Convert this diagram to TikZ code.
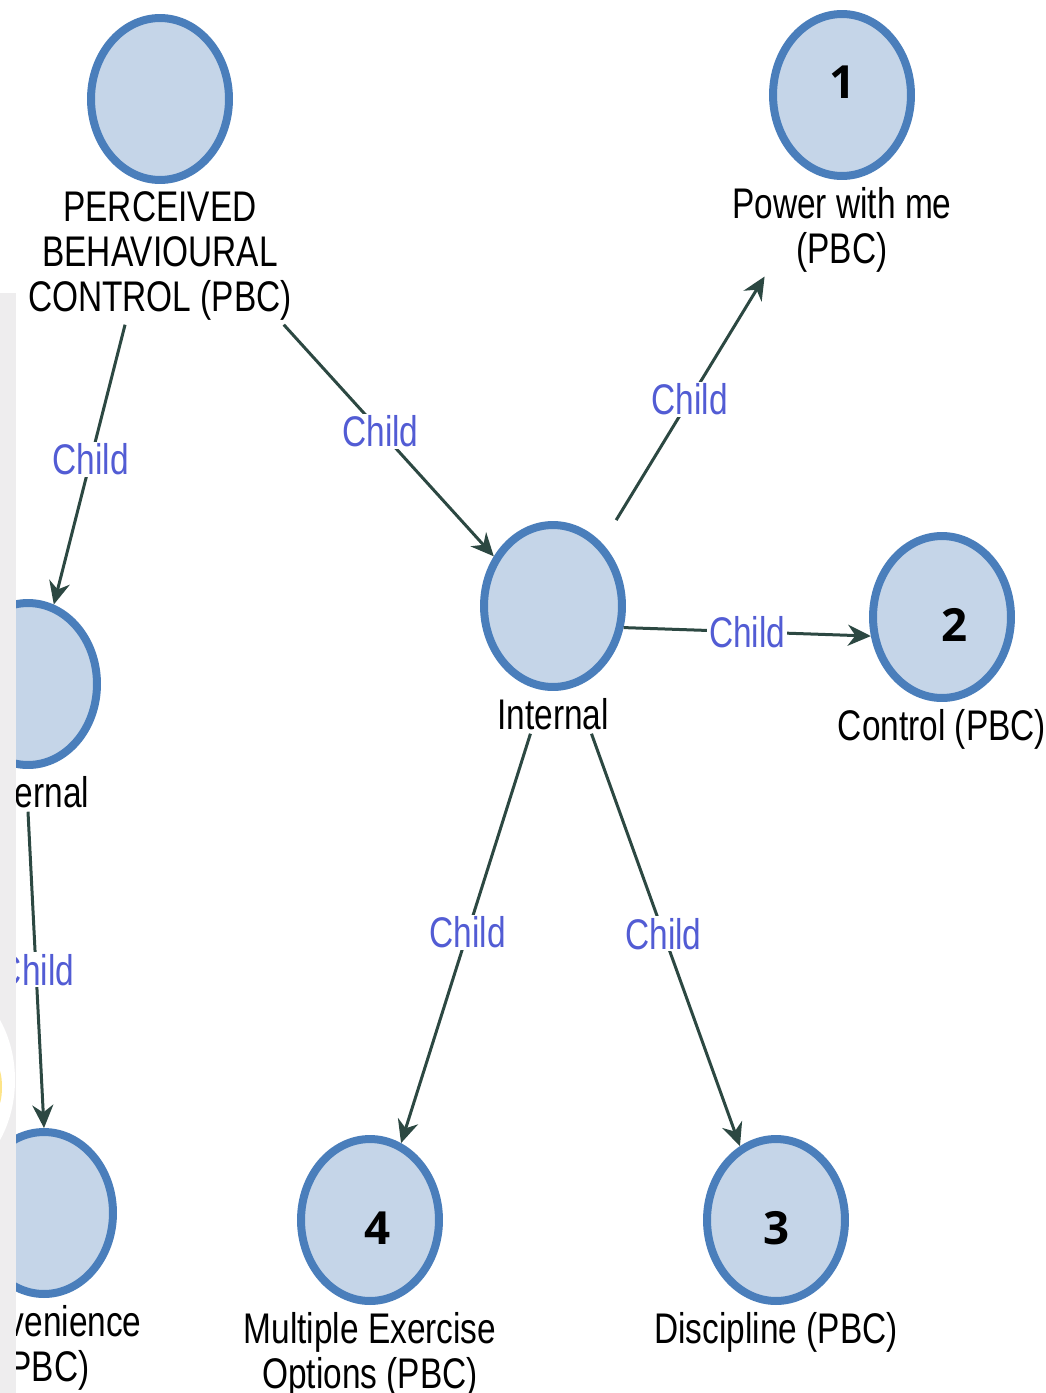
\documentclass[tikz,border=0pt]{standalone}
\usepackage{fontspec}
\setmainfont{Liberation Sans}[FakeStretch=0.78]
\newfontfamily\numfont{Open Sans}
\usepackage{tikz}
\usetikzlibrary{positioning,arrows.meta,shapes.geometric}

\definecolor{codeblue}{RGB}{74,126,187}
\definecolor{codefill}{RGB}{197,213,232}
\definecolor{linkgreen}{RGB}{44,72,66}
\definecolor{childblue}{RGB}{82,92,212}
\definecolor{panelgray}{RGB}{238,237,238}

\begin{document}
\begin{tikzpicture}[x=0.02cm,y=-0.02cm,->,>={Stealth[length=0.46cm,width=0.42cm]},
                    node distance=2pt]
  \tikzstyle{code}=[ellipse,draw=codeblue,fill=codefill,line width=0.16cm,
                    minimum width=2.76cm,minimum height=3.24cm,inner sep=0pt]
  \tikzstyle{codetext}=[text=black,align=center,inner sep=2pt,
                        font=\fontsize{24.4}{25.8}\selectfont]
  \tikzstyle{childlink}=[draw=linkgreen,line width=0.06cm]
  \tikzstyle{childtag}=[fill=white,text=childblue,inner sep=1pt,
                        font=\fontsize{24.4}{25.8}\selectfont]
  \tikzstyle{numtag}=[text=black,inner sep=0pt,
                      font={\numfont\bfseries\fontsize{26}{30}\selectfont}]

  \useasboundingbox (0,0) rectangle (1045,1393);

  \node[code] (A) at (160,99)   {};
  \node[code] (B) at (28,684)   {};
  \node[code] (C) at (553,606)  {};
  \node[code] (D) at (842,95)   {};
  \node[code] (E) at (942,617)  {};
  \node[code] (F) at (370,1220) {};
  \node[code] (G) at (776,1220) {};
  \node[code] (H) at (44,1213)  {};

  \node[codetext] (A-txt) [below=of A] {PERCEIVED\\BEHAVIOURAL\\CONTROL (PBC)};
  \node[codetext] (B-txt) [below=of B] {External};
  \node[codetext] (C-txt) [below=of C] {Internal};
  \node[codetext] (D-txt) [below=of D] {Power with me\\(PBC)};
  \node[codetext] (E-txt) [below=of E] {Control (PBC)};
  \node[codetext] (F-txt) [below=of F] {Multiple Exercise\\Options (PBC)};
  \node[codetext] (G-txt) [below=of G] {Discipline (PBC)};
  \node[codetext] (H-txt) [below=of H] {Convenience\\(PBC)};

  \node[numtag] (n1) at (843,82)   {1};
  \node[numtag] (n2) at (955,625)  {2};
  \node[numtag] (n3) at (777,1228) {3};
  \node[numtag] (n4) at (378,1228) {4};

  \path (A-txt.-117)  edge[childlink] node[childtag,pos=0.48]  {Child} (B.72)
        (A-txt.-29)   edge[childlink] node[childtag,pos=0.46]  {Child} (C.140)
        (C.52)        edge[childlink,shorten <=0.54cm] node[childtag,pos=0.54] {Child} (D-txt.-149)
        (C.-17)       edge[childlink] node[childtag]           {Child} (E.195)
        (C-txt.-139)  edge[childlink] node[childtag,pos=0.485] {Child} (F.68)
        (C-txt.-27)   edge[childlink] node[childtag,pos=0.485] {Child} (G.116)
        (B-txt.south) edge[childlink] node[childtag]           {Child} (H.north);

  % side panel of the screenshot
  \fill[panelgray] (0,293) rectangle (16,1393);
  \begin{scope}
    \clip (0,293) rectangle (16,1393);
    \fill[white] (-60,1080) ellipse (75 and 100);
    \fill[yellow!60!orange!45] (-3,1087) ellipse (5 and 20);
  \end{scope}
\end{tikzpicture}
\end{document}
